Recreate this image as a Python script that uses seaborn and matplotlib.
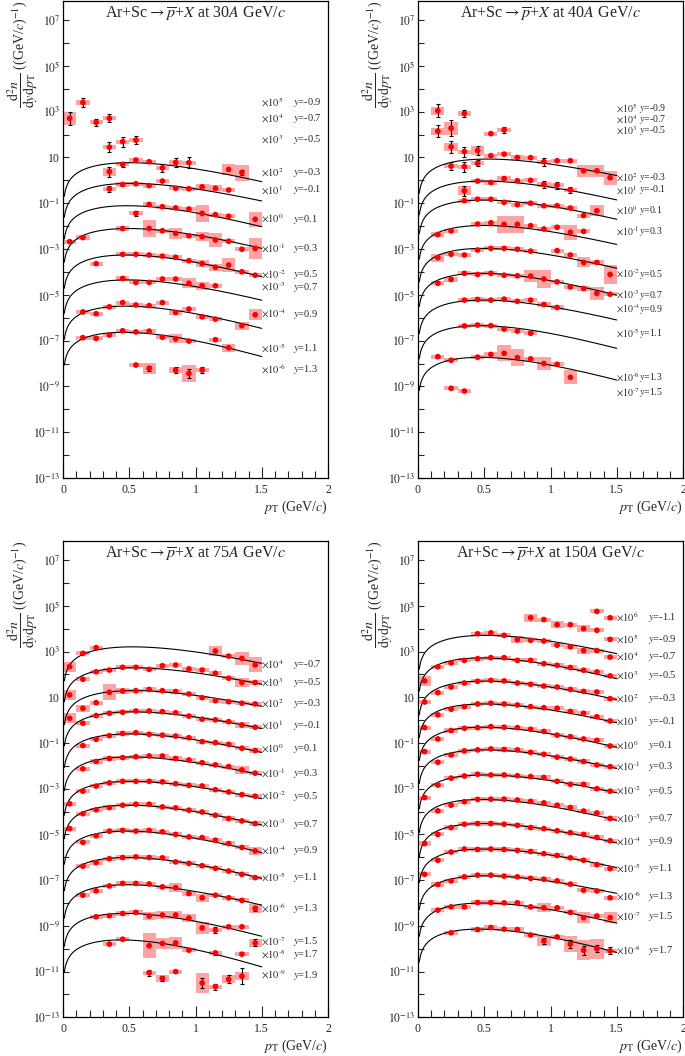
import numpy as np
import pandas as pd
import matplotlib
matplotlib.use("Agg")
import matplotlib.pyplot as plt
from matplotlib.ticker import FixedLocator, FixedFormatter, MultipleLocator, NullFormatter
import seaborn as sns

na = np.nan
pt_bins = [0.05, 0.15, 0.25, 0.35, 0.45, 0.55, 0.65, 0.75, 0.85, 0.95, 1.05, 1.15, 1.25, 1.35, 1.45]
M_P = 0.938

# ---------------- 30A GeV/c (values as drawn, i.e. already x 10^scale) ----------------
scale_30 = {-0.9: 5, -0.7: 4, -0.5: 3, -0.3: 2, -0.1: 1, 0.1: 0, 0.3: -1, 0.5: -2,
            0.7: -3, 0.9: -4, 1.1: -5, 1.3: -6}
spec_30 = {
    -0.9: [na, 2.5e3, na, na, na, na, na, na, na, na, na, na, na, na, na],
    -0.7: [5.1e2, na, 3.4e2, 5.1e2, na, na, na, na, na, na, na, na, na, na, na],
    -0.5: [na, na, na, 28, 49, 57, na, na, na, na, na, na, na, na, na],
    -0.3: [na, na, na, 2.4, 5.0, 7.7, 6.5, 3.5, 6.0, 5.9, na, na, 3.0, 2.2, na],
    -0.1: [na, na, na, 0.42, 0.66, 0.71, 0.59, 0.93, 0.45, 0.43, 0.52, 0.45, 0.38, na, na],
    0.1: [na, na, na, na, na, 0.036, 0.089, 0.071, 0.063, 0.056, 0.036, 0.032, 0.027, na, 0.020],
    0.3: [2.1e-3, 3.2e-3, na, na, 7.9e-3, na, 7.9e-3, 6.3e-3, 4.8e-3, 3.8e-3, 3.5e-3, 2.5e-3, 2.2e-3, 9.8e-4, 1.07e-3],
    0.5: [na, na, 2.3e-4, na, 5.9e-4, 5.9e-4, 5.5e-4, 4.9e-4, 4.4e-4, 3.1e-4, 2.3e-4, 1.6e-4, 2.0e-4, 1.02e-4, 7.2e-5],
    0.7: [na, na, na, na, 5.2e-5, 3.5e-5, 3.5e-5, 4.9e-5, 4.9e-5, 3.2e-5, 2.5e-5, 2.5e-5, na, na, na],
    0.9: [na, 1.8e-6, 1.5e-6, 3.0e-6, 4.6e-6, 3.6e-6, 3.4e-6, 4.6e-6, 1.7e-6, 2.4e-6, 1.1e-6, 8.7e-7, na, 4.5e-7, 1.35e-6],
    1.1: [na, 1.35e-7, 1.25e-7, 1.75e-7, 2.7e-7, 2.4e-7, 2.6e-7, 1.4e-7, 1.2e-7, 9.6e-8, na, 1.1e-7, 4.9e-8, na, na],
    1.3: [na, na, na, na, na, 8.6e-9, 6.2e-9, na, 5.2e-9, 3.7e-9, 5.2e-9, na, na, na, na],
}
label_30 = {-0.9: 2.5e3, -0.7: 5.1e2, -0.5: 58, -0.3: 2.1, -0.1: 0.38, 0.1: 0.020, 0.3: 1.07e-3,
            0.5: 7.4e-5, 0.7: 2.2e-5, 0.9: 1.45e-6, 1.1: 4.6e-8, 1.3: 5.5e-9}
# fit: value at pT = 0.5 GeV/c (as drawn), inverse slope T (GeV)
fit_30 = {-0.3: (5.9, 0.235), -0.1: (0.74, 0.246), 0.1: (0.078, 0.22), 0.3: (7.9e-3, 0.228),
          0.5: (5.5e-4, 0.215), 0.7: (4.5e-5, 0.225), 0.9: (3.2e-6, 0.212), 1.1: (2.3e-7, 0.20)}
# half heights (decades) of systematic boxes and statistical bars where they stand out
sys_30 = {(-0.7, 0.05): 0.28, (-0.3, 0.35): 0.18, (-0.3, 1.25): 0.24, (-0.3, 1.35): 0.35,
          (-0.1, 1.05): 0.13, (-0.1, 1.15): 0.13, (0.1, 1.05): 0.38, (0.1, 1.45): 0.33,
          (0.3, 0.65): 0.36, (0.3, 0.85): 0.24, (0.3, 1.05): 0.2, (0.3, 1.15): 0.29, (0.3, 1.45): 0.45,
          (0.5, 1.05): 0.15, (0.5, 1.15): 0.15, (0.5, 1.25): 0.29, (0.7, 0.95): 0.22, (0.7, 1.05): 0.18,
          (0.9, 1.35): 0.18, (0.9, 1.45): 0.25, (1.1, 0.85): 0.2, (1.1, 1.25): 0.18,
          (1.3, 0.65): 0.25, (1.3, 0.95): 0.36, (1.3, 0.85): 0.12}
stat_30 = {(-0.9, 0.15): 0.2, (-0.7, 0.05): 0.27, (-0.7, 0.25): 0.15, (-0.7, 0.35): 0.17,
           (-0.5, 0.35): 0.22, (-0.5, 0.45): 0.22, (-0.5, 0.55): 0.17, (-0.3, 0.35): 0.22,
           (-0.3, 0.45): 0.1, (-0.3, 0.75): 0.18, (-0.3, 0.85): 0.18, (-0.3, 0.95): 0.24,
           (-0.3, 1.35): 0.1, (-0.1, 0.35): 0.14, (0.1, 0.55): 0.12, (1.3, 0.65): 0.12,
           (1.3, 0.85): 0.12, (1.3, 0.95): 0.18, (1.3, 1.05): 0.13}

# ---------------- 40A GeV/c ----------------
scale_40 = {-0.9: 5, -0.7: 4, -0.5: 3, -0.3: 2, -0.1: 1, 0.1: 0, 0.3: -1, 0.5: -2,
            0.7: -3, 0.9: -4, 1.1: -5, 1.3: -6, 1.5: -7}
spec_40 = {
    -0.9: [na, 1.1e3, na, 8.3e2, na, na, na, na, na, na, na, na, na, na, na],
    -0.7: [na, 1.4e2, 1.9e2, na, na, 1.1e2, 1.6e2, na, na, na, na, na, na, na, na],
    -0.5: [na, na, 29, 18, 20, na, na, na, na, na, na, na, na, na, na],
    -0.3: [na, na, 4.2, 4.0, 5.5, 12, 14, 10, 9.8, 6.5, 7.2, 7.2, 2.6, 2.6, 1.3],
    -0.1: [na, na, na, 0.35, 0.93, 0.81, 1.2, 0.96, 1.0, 0.66, 0.62, 0.38, na, na, na],
    0.1: [na, na, na, 0.13, 0.15, 0.15, 0.11, 0.087, 0.10, 0.078, 0.078, 0.062, 0.029, 0.047, na],
    0.3: [na, 4.3e-3, 6.2e-3, na, 1.24e-2, 1.4e-2, 1.2e-2, 1.2e-2, 1.05e-2, 7.5e-3, 8.9e-3, 5.4e-3, 5.9e-3, na, na],
    0.5: [na, 4.2e-4, 5.9e-4, 5.5e-4, 9.1e-4, 1.07e-3, 1.07e-3, 9.8e-4, 8.1e-4, na, 8.5e-4, 5.5e-4, 2.6e-4, 2.6e-4, 7.8e-5],
    0.7: [na, 3.2e-5, 4.7e-5, 8.7e-5, 7.8e-5, 8.7e-5, 7.2e-5, 6.8e-5, 6.6e-5, 4.9e-5, 3.7e-5, 2.2e-5, 1.9e-5, 1.15e-5, 1.07e-5],
    0.9: [na, na, na, 5.9e-6, 6.3e-6, 5.9e-6, 6.5e-6, 5.2e-6, 5.9e-6, 3.8e-6, 2.8e-6, na, na, na, na],
    1.1: [na, na, na, 4.4e-7, 4.8e-7, 4.5e-7, 3.2e-7, 2.6e-7, 2.1e-7, na, na, na, na, na, na],
    1.3: [na, 2.0e-8, 1.4e-8, na, 1.9e-8, 2.5e-8, 2.8e-8, 1.8e-8, 1.6e-8, 1.0e-8, 9.3e-9, 2.5e-9, na, na, na],
    1.5: [na, na, 8.3e-10, 6.3e-10, na, na, na, na, na, na, na, na, na, na, na],
}
label_40 = {-0.9: 1.4e3, -0.7: 4.6e2, -0.5: 1.5e2, -0.3: 1.3, -0.1: 0.38, 0.1: 0.047, 0.3: 5.8e-3,
            0.5: 8.1e-5, 0.7: 9.8e-6, 0.9: 2.4e-6, 1.1: 2.1e-7, 1.3: 2.5e-9, 1.5: 5.5e-10}
fit_40 = {-0.3: (8.5, 0.256), -0.1: (0.93, 0.236), 0.1: (0.138, 0.233), 0.3: (1.07e-2, 0.235),
          0.5: (1.07e-3, 0.228), 0.7: (8.7e-5, 0.215), 0.9: (5.9e-6, 0.228), 1.1: (4.5e-7, 0.209),
          1.3: (1.86e-8, 0.209)}
sys_40 = {(-0.9, 0.15): 0.18, (-0.7, 0.15): 0.16, (-0.7, 0.25): 0.28, (-0.5, 0.25): 0.18,
          (-0.5, 0.45): 0.18, (-0.1, 0.35): 0.2, (-0.3, 1.25): 0.25, (-0.3, 1.35): 0.25,
          (-0.3, 1.45): 0.31, (0.1, 1.35): 0.25, (0.3, 0.65): 0.36, (0.3, 0.75): 0.36,
          (0.3, 1.15): 0.33, (0.5, 0.15): 0.18, (0.5, 1.25): 0.22, (0.5, 1.45): 0.42,
          (0.7, 0.85): 0.25, (0.7, 0.95): 0.4, (0.7, 1.35): 0.29, (1.3, 0.65): 0.35,
          (1.3, 0.75): 0.36, (1.3, 0.95): 0.29, (1.3, 1.15): 0.31}
stat_40 = {(-0.9, 0.15): 0.29, (-0.9, 0.35): 0.15, (-0.7, 0.15): 0.25, (-0.7, 0.25): 0.36,
           (-0.7, 0.65): 0.13, (-0.5, 0.25): 0.25, (-0.5, 0.35): 0.22, (-0.5, 0.45): 0.18,
           (-0.3, 0.25): 0.18, (-0.3, 0.35): 0.22, (-0.3, 0.45): 0.13, (-0.3, 0.95): 0.17,
           (-0.1, 0.35): 0.22, (-0.1, 0.95): 0.15, (-0.1, 1.05): 0.15, (-0.1, 1.15): 0.15}

# ---------------- 75A GeV/c ----------------
scale_75 = {-0.7: 4, -0.5: 3, -0.3: 2, -0.1: 1, 0.1: 0, 0.3: -1, 0.5: -2, 0.7: -3,
            0.9: -4, 1.1: -5, 1.3: -6, 1.5: -7, 1.7: -8, 1.9: -9}
spec_75 = {
    -0.7: [2.2e2, 8.3e2, 1.48e3, na, na, na, na, na, na, na, na, 1.05e3, 6.3e2, 5.0e2, 2.6e2],
    -0.5: [12.6, 61, 130, 155, 204, 204, 166, 240, 257, 174, 155, 112, 68, 44, 44],
    -0.3: [1.2, 3.3, 5.8, 16.6, 18.8, 19.4, 22, 19.4, 17.8, 13.9, 9.6, 7.1, 6.4, 5.5, 5.1],
    -0.1: [na, 0.73, 1.58, 2.0, 2.2, 2.5, 2.5, 2.35, 2.1, 1.5, 1.1, 1.03, 0.86, 0.61, 0.49],
    0.1: [na, 0.077, 0.145, 0.21, 0.26, 0.28, 0.24, 0.22, 0.20, 0.17, 0.115, 0.104, 0.087, 0.059, 0.047],
    0.3: [na, 7.4e-3, 1.55e-2, 2.1e-2, 2.3e-2, 2.5e-2, 2.7e-2, 2.7e-2, 2.1e-2, 1.8e-2, 1.38e-2, 1.1e-2, 9.3e-3, 6.6e-3, 4.8e-3],
    0.5: [2.2e-4, 7.8e-4, 1.3e-3, 1.8e-3, 2.1e-3, 2.1e-3, 2.1e-3, 2.0e-3, 1.66e-3, 1.41e-3, 1.32e-3, 9.1e-4, 7.2e-4, 5.5e-4, 4.7e-4],
    0.7: [1.8e-5, 8.1e-5, 1.2e-4, 1.5e-4, 1.9e-4, 2.1e-4, 2.1e-4, 1.6e-4, 1.45e-4, 1.15e-4, 9.6e-5, 6.9e-5, 5.0e-5, 3.9e-5, 3.0e-5],
    0.9: [na, 4.5e-6, 8.7e-6, 1.4e-5, 1.5e-5, 1.4e-5, 1.5e-5, 1.3e-5, 1.0e-5, 7.8e-6, 7.3e-6, 5.6e-6, 4.0e-6, 2.7e-6, 1.9e-6],
    1.1: [na, 4.1e-7, 5.9e-7, 8.7e-7, 9.8e-7, 1.05e-6, 9.8e-7, 9.5e-7, 6.3e-7, 5.4e-7, 4.3e-7, 3.3e-7, 2.5e-7, 1.8e-7, 1.3e-7],
    1.3: [na, 2.2e-8, 3.4e-8, 5.6e-8, 7.2e-8, 7.2e-8, 6.8e-8, 5.1e-8, 4.7e-8, 2.6e-8, 1.7e-8, 2.2e-8, 1.7e-8, 1.3e-8, 5.8e-9],
    1.5: [na, na, 2.5e-9, 2.8e-9, 3.5e-9, 3.9e-9, 2.7e-9, 3.0e-9, 3.0e-9, 2.2e-9, 8.1e-10, 6.5e-10, 9.1e-10, 9.1e-10, 1.8e-10],
    1.7: [na, na, na, 1.6e-10, 2.6e-10, na, 1.35e-10, 1.7e-10, 1.8e-10, 8.7e-11, na, 6.6e-11, na, 5.8e-11, na],
    1.9: [na, na, na, na, na, na, 8.9e-12, 5.0e-12, 1.0e-11, na, 3.2e-12, 2.2e-12, 4.6e-12, 6.3e-12, na],
}
label_75 = {-0.7: 2.6e2, -0.5: 44, -0.3: 5.1, -0.1: 0.58, 0.1: 0.055, 0.3: 4.8e-3, 0.5: 4.7e-4,
            0.7: 2.8e-5, 0.9: 1.9e-6, 1.1: 1.3e-7, 1.3: 5.8e-9, 1.5: 2.0e-10, 1.7: 5.6e-11, 1.9: 7.1e-12}
fit_75 = {-0.7: (1.6e3, 0.256), -0.5: (1.95e2, 0.256), -0.3: (19.5, 0.263), -0.1: (2.3, 0.254),
          0.1: (0.25, 0.238), 0.3: (2.45e-2, 0.242), 0.5: (2.1e-3, 0.248), 0.7: (1.9e-4, 0.228),
          0.9: (1.4e-5, 0.216), 1.1: (9.8e-7, 0.221), 1.3: (6.3e-8, 0.224), 1.5: (3.5e-9, 0.208),
          1.7: (2.4e-10, 0.186)}
sys_75 = {(-0.7, 0.05): 0.22, (-0.7, 1.15): 0.22, (-0.7, 1.35): 0.27, (-0.7, 1.45): 0.33,
          (-0.5, 0.05): 0.22, (-0.5, 1.35): 0.18, (-0.3, 0.05): 0.22, (-0.3, 0.15): 0.15,
          (-0.3, 0.35): 0.36, (-0.3, 0.45): 0.15, (-0.1, 1.35): 0.13, (0.3, 1.35): 0.18,
          (0.9, 1.45): 0.18, (1.3, 0.85): 0.2, (1.3, 1.05): 0.18, (1.3, 1.45): 0.18,
          (1.5, 0.65): 0.18, (1.5, 0.75): 0.18, (1.5, 0.85): 0.18, (1.5, 0.95): 0.18,
          (1.5, 1.05): 0.25, (1.5, 1.45): 0.18, (1.7, 0.65): 0.55, (1.7, 0.75): 0.25,
          (1.7, 0.85): 0.25, (1.9, 1.05): 0.44, (1.9, 1.25): 0.18, (1.9, 1.35): 0.17, (1.9, 0.75): 0.17}
stat_75 = {(1.9, 0.65): 0.12, (1.9, 0.75): 0.12, (1.9, 1.05): 0.22, (1.9, 1.15): 0.13,
           (1.9, 1.25): 0.18, (1.9, 1.35): 0.36, (1.5, 1.45): 0.15, (1.5, 1.15): 0.12,
           (1.7, 1.15): 0.1, (1.3, 1.45): 0.1}

# ---------------- 150A GeV/c ----------------
scale_150 = {-1.1: 6, -0.9: 5, -0.7: 4, -0.5: 3, -0.3: 2, -0.1: 1, 0.1: 0, 0.3: -1, 0.5: -2,
             0.7: -3, 0.9: -4, 1.1: -5, 1.3: -6, 1.5: -7, 1.7: -8}
spec_150 = {
    -1.1: [na, na, na, na, na, na, na, na, na, na, na, na, na, 5.7e4, 3.0e4],
    -0.9: [na, na, na, na, na, na, na, na, 3.0e4, 2.5e4, 1.5e4, 1.5e4, 1.0e4, 8.5e3, 3.4e3],
    -0.7: [na, na, na, na, 6.0e3, 6.6e3, 5.1e3, 3.3e3, 3.1e3, 2.9e3, 1.9e3, 1.6e3, 1.1e3, 1.1e3, 5.7e2],
    -0.5: [52, 215, 320, 410, 490, 540, 540, 410, 410, 295, 250, 200, 152, 128, 86],
    -0.3: [6.2, 16, 28, 42, 50, 55, 52, 42, 37, 31, 28, 22, 18, 17, 8.7],
    -0.1: [0.47, 1.7, 3.0, 3.9, 5.1, 5.5, 5.1, 4.6, 3.9, 3.5, 3.3, 2.4, 2.0, 1.4, 0.92],
    0.1: [0.042, 0.15, 0.35, 0.44, 0.47, 0.52, 0.49, 0.47, 0.40, 0.32, 0.22, 0.19, 0.15, 0.13, 0.074],
    0.3: [na, 1.44e-2, 3.0e-2, 4.5e-2, 5.0e-2, 5.5e-2, 5.2e-2, 5.0e-2, 3.9e-2, 3.2e-2, 2.4e-2, 2.0e-2, 1.55e-2, 1.1e-2, 9.3e-3],
    0.5: [4.1e-4, 1.45e-3, 2.9e-3, 3.6e-3, 4.3e-3, 4.0e-3, 4.0e-3, 3.7e-3, 3.4e-3, 3.1e-3, 2.1e-3, 1.56e-3, 1.56e-3, 1.0e-3, 7.8e-4],
    0.7: [na, 1.07e-4, 1.9e-4, 2.7e-4, 3.4e-4, 3.5e-4, 3.5e-4, 3.2e-4, 2.8e-4, 2.4e-4, 1.9e-4, 1.5e-4, 1.05e-4, 8.7e-5, 5.0e-5],
    0.9: [4.0e-6, 1.0e-5, 2.0e-5, 2.8e-5, 3.0e-5, 3.0e-5, 2.8e-5, 2.5e-5, 2.0e-5, 1.8e-5, 1.45e-5, 1.2e-5, 1.0e-5, 7.4e-6, 5.3e-6],
    1.1: [1.8e-7, 7.4e-7, 1.7e-6, 2.3e-6, 2.2e-6, 2.3e-6, 2.2e-6, 2.0e-6, 1.8e-6, 1.45e-6, 1.2e-6, 9.5e-7, 7.4e-7, 4.8e-7, 3.2e-7],
    1.3: [na, 6.5e-8, 9.3e-8, 1.4e-7, 1.66e-7, 1.66e-7, 1.5e-7, 1.4e-7, 1.2e-7, 1.1e-7, 9.3e-8, 6.7e-8, 3.6e-8, 3.4e-8, 1.7e-8],
    1.5: [na, 4.9e-9, 6.8e-9, 6.8e-9, 1.05e-8, 1.05e-8, 1.02e-8, 1.02e-8, 6.8e-9, 6.2e-9, 6.2e-9, 3.9e-9, 2.3e-9, 2.7e-9, 2.3e-9],
    1.7: [na, na, 5.0e-10, na, 6.9e-10, 8.5e-10, 7.2e-10, 6.9e-10, 4.0e-10, 2.2e-10, 3.3e-10, 1.6e-10, 8.7e-11, 1.0e-10, 8.1e-11],
}
label_150 = {-1.1: 3.0e4, -0.9: 3.4e3, -0.7: 5.8e2, -0.5: 91, -0.3: 8.7, -0.1: 0.91, 0.1: 0.074,
             0.3: 9.3e-3, 0.5: 7.8e-4, 0.7: 5.0e-5, 0.9: 5.0e-6, 1.1: 3.2e-7, 1.3: 1.86e-8,
             1.5: 2.5e-9, 1.7: 8.1e-11}
fit_150 = {-0.7: (5.1e3, 0.24), -0.5: (5.25e2, 0.221), -0.3: (51, 0.238), -0.1: (5.1, 0.236),
           0.1: (0.49, 0.226), 0.3: (0.050, 0.238), 0.5: (4.0e-3, 0.244), 0.7: (3.4e-4, 0.221),
           0.9: (3.0e-5, 0.231), 1.1: (2.3e-6, 0.238), 1.3: (1.55e-7, 0.246), 1.5: (1.0e-8, 0.226),
           1.7: (7.2e-10, 0.205)}
sys_150 = {(-0.9, 0.85): 0.17, (-0.9, 1.05): 0.15, (-0.9, 1.25): 0.15, (-0.7, 0.75): 0.16,
           (-0.7, 1.25): 0.13, (-0.5, 0.05): 0.23, (1.5, 0.95): 0.2, (1.5, 1.25): 0.24,
           (1.5, 1.45): 0.24, (1.7, 0.95): 0.2, (1.7, 1.15): 0.33, (1.7, 1.25): 0.44, (1.7, 1.35): 0.44}
stat_150 = {(1.7, 0.95): 0.12, (1.7, 1.15): 0.18, (1.7, 1.25): 0.2, (1.7, 1.35): 0.15, (1.7, 1.45): 0.15}

energies = [30, 40, 75, 150]
panel_data = {
    30: (scale_30, spec_30, label_30, fit_30, sys_30, stat_30),
    40: (scale_40, spec_40, label_40, fit_40, sys_40, stat_40),
    75: (scale_75, spec_75, label_75, fit_75, sys_75, stat_75),
    150: (scale_150, spec_150, label_150, fit_150, sys_150, stat_150),
}
y_text_x = {30: 1.736, 40: 1.67, 75: 1.736, 150: 1.736}
label_size = {30: 7.5, 40: 7.0, 75: 7.5, 150: 7.5}

PINK = "#fda3a3"
sns.set_style("ticks")
plt.rcParams["font.family"] = ["Liberation Serif", "DejaVu Serif"]
plt.rcParams["mathtext.fontset"] = "stix"

fig = plt.figure(figsize=(6.85, 10.56), dpi=100)
positions = {30: [0.092, 0.5473, 0.3869, 0.4517], 40: [0.6102, 0.5473, 0.3869, 0.4517],
             75: [0.092, 0.0366, 0.3869, 0.4510], 150: [0.6102, 0.0366, 0.3869, 0.4510]}


def mt_weight(pt, T):
    # m_T exponential used for the drawn fits
    return pt * np.exp(-(np.sqrt(pt ** 2 + M_P ** 2) - M_P) / T)


def times_label(k):
    # ROOT-style "x10^k" with a short hyphen in the exponent
    exp = str(k) if k >= 0 else r"\text{-}%d" % -k
    return r"$\times10^{%s}$" % exp


for en in energies:
    scale, spec, labels, fits, sys_err, stat_err = panel_data[en]
    ax = fig.add_axes(positions[en])
    ax.set_yscale("log")

    rows = []
    for rap, vals in spec.items():
        for pt, v in zip(pt_bins, vals):
            if not np.isnan(v):
                rows.append((rap, pt, v))
    df = pd.DataFrame(rows, columns=["rap", "pT", "val"])

    # systematic boxes
    half = np.array([sys_err.get((r, p), 0.09) for r, p in zip(df.rap, df.pT)])
    lo = df.val.values * 10.0 ** (-half)
    hi = df.val.values * 10.0 ** half
    ax.bar(df.pT, hi - lo, bottom=lo, width=0.1, color=PINK, linewidth=0, zorder=1)

    # statistical bars
    for (rap, pt), s in stat_err.items():
        v = spec[rap][pt_bins.index(pt)]
        ax.errorbar([pt], [v], yerr=[[v - v * 10 ** -s], [v * 10 ** s - v]], fmt="none",
                    ecolor="black", elinewidth=0.8, capsize=1.5, capthick=0.8, zorder=3)

    # fits
    pt_fine = np.linspace(0.01, 1.5, 300)
    for rap, (v05, T) in fits.items():
        ax.plot(pt_fine, v05 * mt_weight(pt_fine, T) / mt_weight(0.5, T),
                color="black", linewidth=0.8, zorder=2)

    sns.scatterplot(data=df, x="pT", y="val", color="red", s=17, edgecolor="none",
                    legend=False, ax=ax, zorder=4)

    fs = label_size[en]
    for rap, ly in labels.items():
        ax.text(1.497, ly, times_label(scale[rap]), fontsize=fs, ha="left", va="center")
        ax.text(y_text_x[en], ly, r"$y$" + "=%g" % rap, fontsize=fs, ha="left", va="center")

    ax.set_xlim(0, 2)
    ax.set_ylim(1e-13, 10 ** 7.83)
    ax.set_xlabel("")
    ax.set_ylabel("")
    exps = list(range(-13, 8, 2))
    ax.yaxis.set_major_locator(FixedLocator([10.0 ** k for k in exps]))
    ax.yaxis.set_major_formatter(FixedFormatter(["10" if k == 1 else r"$10^{%d}$" % k for k in exps]))
    ax.yaxis.set_minor_locator(FixedLocator([10.0 ** k for k in range(-12, 8, 2)]))
    ax.yaxis.set_minor_formatter(NullFormatter())
    ax.xaxis.set_major_locator(FixedLocator([0, 0.5, 1, 1.5, 2]))
    ax.xaxis.set_major_formatter(FixedFormatter(["0", "0.5", "1", "1.5", "2"]))
    ax.xaxis.set_minor_locator(MultipleLocator(0.1))
    ax.tick_params(axis="y", which="both", direction="in", length=4, width=0.8, labelsize=8.5,
                   right=False, pad=2)
    ax.tick_params(axis="x", which="major", direction="in", length=8, width=0.8, labelsize=8.5,
                   top=False, pad=4)
    ax.tick_params(axis="x", which="minor", direction="in", length=5, width=0.8, top=False)
    for sp in ax.spines.values():
        sp.set_visible(True)
        sp.set_linewidth(0.9)
        sp.set_color("black")

    ax.text(0.5, 1 - 13 / 477, r"Ar+Sc$\rightarrow\overline{p}$+$X$ at %d$A$ GeV/$c$" % en,
            transform=ax.transAxes, ha="center", va="center", fontsize=11.5)
    ax.text(1.0, -29 / 477, r"$p_{\mathrm{T}}$ (GeV/$c$)", transform=ax.transAxes,
            ha="right", va="center", fontsize=10)
    ax.text(-0.15, 1.0, r"$\dfrac{\mathrm{d}^2n}{\mathrm{d}y\mathrm{d}p_{\mathrm{T}}}$ ((GeV/$c$)$^{-1}$)",
            transform=ax.transAxes, rotation=90, ha="center", va="top", fontsize=10)

fig.savefig("out.png", dpi=100)
